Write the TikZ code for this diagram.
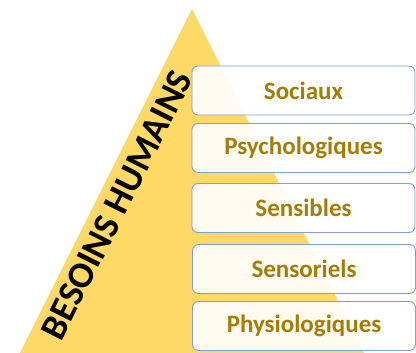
\documentclass[tikz,border=0pt]{standalone}
\usepackage{fontspec}
\setmainfont{Carlito}
\usepackage{xcolor}
\usepackage{tikz}
\usetikzlibrary{calc}
\definecolor{pyr}{HTML}{FFD966}
\definecolor{gold}{HTML}{A47C06}
\definecolor{rim}{HTML}{7F9FD6}
\tikzset{
  pyramid/.style={fill=pyr, draw=none},
  level/.style={draw=rim, line width=0.9pt, rounded corners=6pt, fill=white, fill opacity=0.9, text opacity=1,
    minimum width=223pt, minimum height=49pt, inner sep=0pt, text=gold, font=\bfseries\fontsize{25}{28}\selectfont},
  title/.style={text=black, font=\bfseries\fontsize{37}{40}\selectfont, rotate=63.4, inner sep=0pt},
}

\begin{document}
\begin{tikzpicture}[x=1pt,y=1pt]
  \useasboundingbox (0,0) rectangle (416,353);
  \coordinate (top) at (192,344);
  \coordinate (bl) at (20,0);
  \coordinate (br) at (364,0);
  \begin{scope}
    \clip (0,0) rectangle (416,353);
    \fill[pyramid] (bl) -- (top) -- (br) -- cycle;
  \end{scope}
  \node[title] (besoins) at (117,148) {BESOINS HUMAINS};
  \node[level] (soc) at (303.5,262.5) {Sociaux};
  \node[level] (psy) at (303.5,205) {Psychologiques};
  \node[level] (sbl) at (303.5,145) {Sensibles};
  \node[level] (sns) at (304,84) {Sensoriels};
  \node[level] (phy) at (304,27) {Physiologiques};
\end{tikzpicture}
\end{document}
